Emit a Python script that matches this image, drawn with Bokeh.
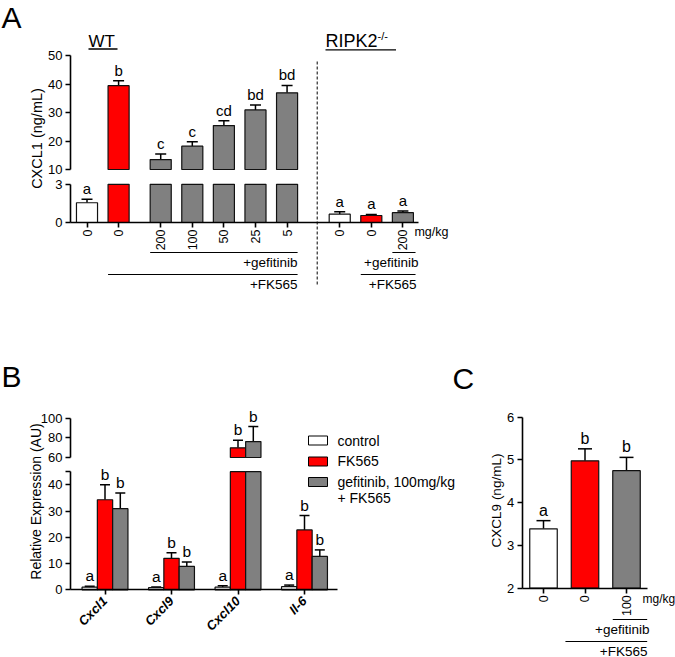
import math
from bokeh.plotting import figure
from bokeh.models import Range1d, LinearAxis, FixedTicker, Whisker, TeeHead, ColumnDataSource
from bokeh.core.properties import value
from bokeh.embed import file_html
from bokeh.resources import INLINE

FONT = "Liberation Sans"

# ---------------- data ----------------
# Panel A: CXCL1 (ng/mL)
a_doses = ["0", "0", "200", "100", "50", "25", "5", "0", "0", "200"]
a_treat = ["control", "FK565", "gefitinib", "gefitinib", "gefitinib", "gefitinib",
           "gefitinib", "control", "FK565", "gefitinib"]
a_mean = [1.55, 39.4, 13.5, 18.2, 25.4, 30.9, 36.9, 0.65, 0.55, 0.77]
a_err = [0.27, 1.7, 1.9, 1.5, 1.7, 1.7, 2.6, 0.2, 0.08, 0.13]
a_letters = ["a", "b", "c", "c", "cd", "bd", "bd", "a", "a", "a"]
a_upper_ticks = [10, 20, 30, 40, 50]
a_lower_ticks = [0, 3]

# Panel B: Relative Expression (AU)
b_genes = ["Cxcl1", "Cxcl9", "Cxcl10", "Il-6"]
b_series = ["control", "FK565", "gefitinib"]
b_series_labels = ["control", "FK565", "gefitinib, 100mg/kg", "+ FK565"]
b_control = [1.0, 0.8, 1.0, 1.2]
b_control_err = [0.4, 0.3, 0.5, 0.6]
b_fk565 = [34.3, 12.0, 69.8, 22.8]
b_fk565_err = [5.7, 2.1, 7.8, 5.5]
b_gef = [30.9, 8.9, 76.2, 12.7]
b_gef_err = [6.0, 1.7, 15.3, 2.5]
b_letters = ["a", "b", "b"]
b_upper_ticks = [60, 80, 100]
b_lower_ticks = [0, 10, 20, 30, 40, 45]

# Panel C: CXCL9 (ng/mL)
c_doses = ["0", "0", "100"]
c_treat = ["control", "FK565", "gefitinib"]
c_mean = [3.39, 4.98, 4.75]
c_err = [0.19, 0.28, 0.31]
c_letters = ["a", "b", "b"]
c_ticks = [2, 3, 4, 5, 6]

COLORS = {"control": "#ffffff", "FK565": "#ff0000", "gefitinib": "#808080"}

# ---------------- layout ----------------
W, H = 675, 657
X0, X1, Y0, Y1 = 0.0, float(W), 0.0, float(H)   # frame in page pixels


def rng(v1, p1, v2, p2, vertical):
    k = (v2 - v1) / (p2 - p1)
    a, b = (Y1, Y0) if vertical else (X0, X1)
    return Range1d(start=v1 + (a - p1) * k, end=v1 + (b - p1) * k)


p = figure(width=W, height=H, x_range=Range1d(X0, X1), y_range=Range1d(Y1, Y0),
           output_backend="svg", toolbar_location=None, min_border=0,
           x_axis_location=None, y_axis_location=None)
p.outline_line_color = None
p.background_fill_color = "white"
p.border_fill_color = "white"
p.xgrid.visible = False
p.ygrid.visible = False

# panel A geometry
A_PX0, A_UNIT = 86.5, 10.53
a_pos = [0, 3, 7, 10, 13, 16, 19, 24, 27, 30]
A_W = 2.0
def ax_(px): return (px - A_PX0) / A_UNIT
# panel B geometry
B_PX0, B_UNIT = 104.5, 66.5
B_W = 15.3 / B_UNIT
def bx_(px): return (px - B_PX0) / B_UNIT
# panel C geometry
C_PX0, C_UNIT = 543.0, 41.5
C_W = 27.5 / C_UNIT
def cx_(px): return (px - C_PX0) / C_UNIT

p.extra_x_ranges = {
    "ax": rng(0, A_PX0, 1, A_PX0 + A_UNIT, False),
    "bx": rng(0, B_PX0, 1, B_PX0 + B_UNIT, False),
    "cx": rng(0, C_PX0, 1, C_PX0 + C_UNIT, False),
}
p.extra_y_ranges = {
    "au": rng(10, 169.0, 50, 55.0, True),
    "al": rng(0, 222.0, 3, 183.8, True),
    "bu": rng(60, 457.0, 100, 417.7, True),
    "bl": rng(0, 589.3, 40, 484.3, True),
    "cy": rng(2, 587.7, 6, 416.7, True),
}


def add_axis(side, xr, yr, loc, bounds, ticks, overrides=None, orient="horizontal",
             size="13px", style="normal", standoff=3):
    ax = LinearAxis(x_range_name=xr, y_range_name=yr, fixed_location=loc, bounds=bounds,
                    ticker=FixedTicker(ticks=ticks, minor_ticks=[]),
                    axis_line_width=1.6, axis_line_color="black",
                    major_tick_line_width=1.6, major_tick_line_color="black",
                    major_tick_in=0, major_tick_out=5, minor_tick_line_color=None,
                    major_label_text_font=FONT, major_label_text_font_size=size,
                    major_label_text_font_style=style, major_label_text_color="black",
                    major_label_standoff=standoff, major_label_orientation=orient)
    if overrides:
        ax.major_label_overrides = overrides
    p.add_layout(ax, side)


def txt(x, y, s, size, xr="default", yr="default", align="center", baseline="middle",
        angle=0.0, style="normal", xo=0, yo=0):
    p.text(x=[x], y=[y], text=[s], x_range_name=xr, y_range_name=yr,
           text_font=value(FONT), text_font_size=value(size), text_align=align,
           text_baseline=baseline, angle=angle, text_font_style=style,
           text_color="black", x_offset=xo, y_offset=yo)


def draw_bars(xr, xs, width, vals, errs, letters, colors, lo, lo_max, bottom=0,
              up=None, up_min=None, cap=10, letter_size="14px"):
    lo_top = [min(v, lo_max) for v in vals]
    p.vbar(x=xs, width=width, bottom=bottom, top=lo_top, fill_color=colors,
           line_color="#111111", line_width=1.2, x_range_name=xr, y_range_name=lo)
    groups = {lo: [i for i, v in enumerate(vals) if up is None or v <= up_min]}
    if up is not None:
        ui = [i for i, v in enumerate(vals) if v > up_min]
        if ui:
            p.vbar(x=[xs[i] for i in ui], width=width, bottom=up_min,
                   top=[vals[i] for i in ui], fill_color=[colors[i] for i in ui],
                   line_color="#111111", line_width=1.2, x_range_name=xr, y_range_name=up)
            groups[up] = ui
    for rname, idx in groups.items():
        if not idx:
            continue
        base = [xs[i] for i in idx]
        top = [vals[i] + errs[i] for i in idx]
        src = ColumnDataSource(dict(base=base, lower=[vals[i] for i in idx], upper=top))
        p.add_layout(Whisker(source=src, base="base", lower="lower", upper="upper",
                             dimension="height", line_width=1.5, line_color="black",
                             upper_head=TeeHead(size=cap, line_width=1.5, line_color="black"),
                             lower_head=None, x_range_name=xr, y_range_name=rname))
        p.text(x=base, y=top, text=[letters[i] for i in idx], x_range_name=xr,
               y_range_name=rname, text_font=value(FONT), text_font_size=value(letter_size),
               text_align="center", text_baseline="bottom", y_offset=-2, text_color="black")


# ================= Panel A =================
a_colors = [COLORS[t] for t in a_treat]
draw_bars("ax", a_pos, A_W, a_mean, a_err, a_letters, a_colors, "al", 3, up="au", up_min=10,
          cap=11, letter_size="15px")
add_axis("left", "ax", "au", ax_(70), (10, 50), a_upper_ticks)
add_axis("left", "ax", "al", ax_(70), (0, 3), a_lower_ticks)
add_axis("below", "ax", "al", 0, (ax_(70), ax_(418)), a_pos,
         overrides={pp: d for pp, d in zip(a_pos, a_doses)}, orient=math.pi / 2,
         size="12.5px", standoff=2)

# brackets
half = A_W / 2
p.segment(x0=[a_pos[2] - half, a_pos[1] - half, a_pos[9] - half, a_pos[8] - half],
          x1=[a_pos[6] + half, a_pos[6] + half, a_pos[9] + half + 0.2, a_pos[9] + half + 0.2],
          y0=[252, 274, 252, 274], y1=[252, 274, 252, 274],
          x_range_name="ax", line_color="black", line_width=1)
txt(a_pos[6] + half, 262, "+gefitinib", "13.5px", xr="ax", align="right")
txt(a_pos[6] + half, 284, "+FK565", "13.5px", xr="ax", align="right")
txt(a_pos[9] + half, 262, "+gefitinib", "13.5px", xr="ax", align="right", xo=5)
txt(a_pos[9] + half, 284, "+FK565", "13.5px", xr="ax", align="right", xo=3)
txt(a_pos[9] + half, 231, "mg/kg", "12.5px", xr="ax", align="left", xo=1)

# separator
p.segment(x0=[316.7], x1=[316.7], y0=[61], y1=[285], line_color="black",
          line_width=1, line_dash="3 2")

# titles
txt(1, 17, "A", "30px", align="left")
txt(88, 41, "WT", "17px", align="left")
p.segment(x0=[88], x1=[117], y0=[48.5], y1=[48.5], line_color="black", line_width=1.3)
txt(325, 40.5, "RIPK2", "18px", align="left")
txt(377, 35, "-/-", "11px", align="left")
p.segment(x0=[325], x1=[395.5], y0=[49.3], y1=[49.3], line_color="black", line_width=1.3)
txt(36, 138, "CXCL1 (ng/mL)", "14.5px", angle=math.pi / 2)

# ================= Panel B =================
b_vals = [b_control, b_fk565, b_gef]
b_errs = [b_control_err, b_fk565_err, b_gef_err]
for s, (name, vals, errs) in enumerate(zip(b_series, b_vals, b_errs)):
    xs = [g + (s - 1) * B_W for g in range(len(b_genes))]
    draw_bars("bx", xs, B_W, vals, errs, [b_letters[s]] * len(vals),
              [COLORS[name]] * len(vals), "bl", 45, up="bu", up_min=60, cap=10,
              letter_size="15.5px")
add_axis("left", "bx", "bu", bx_(70), (60, 100), b_upper_ticks)
add_axis("left", "bx", "bl", bx_(70), (0, 45), b_lower_ticks, overrides={45: ""})
add_axis("below", "bx", "bl", 0, (bx_(70), bx_(337.3)), list(range(len(b_genes))),
         overrides={i: g for i, g in enumerate(b_genes)}, orient=math.pi / 4,
         size="13px", style="bold italic", standoff=4)

txt(1, 376, "B", "30px", align="left")
txt(35, 501, "Relative Expression (AU)", "14px", angle=math.pi / 2)

# legend
leg_y = [440, 461, 481.5]
for yy, name in zip(leg_y, b_series):
    p.rect(x=[317.5], y=[yy], width=19, height=9, fill_color=COLORS[name],
           line_color="black", line_width=1)
for yy, lab in zip([440, 460.5, 481.5, 497], b_series_labels):
    txt(337, yy, lab, "14px", align="left")

# ================= Panel C =================
c_pos = [0, 1, 2]
draw_bars("cx", c_pos, C_W, c_mean, c_err, c_letters, [COLORS[t] for t in c_treat],
          "cy", 10, bottom=2, cap=14, letter_size="16px")
add_axis("left", "cx", "cy", cx_(521.7), (2, 6), c_ticks)
add_axis("below", "cx", "cy", 2, (cx_(521.7), cx_(646.7)), c_pos,
         overrides={pp: d for pp, d in zip(c_pos, c_doses)}, orient=math.pi / 2,
         size="12.5px", standoff=2)
ch = C_W / 2
p.segment(x0=[c_pos[2] - ch, c_pos[1] - ch - 0.14], x1=[cx_(646.7), cx_(646.7)],
          y0=[619, 641], y1=[619, 641], x_range_name="cx", line_color="black", line_width=1)
txt(cx_(649), 629, "+gefitinib", "13.5px", xr="cx", align="right")
txt(cx_(647), 650.5, "+FK565", "13.5px", xr="cx", align="right")
txt(cx_(642), 598, "mg/kg", "12px", xr="cx", align="left")

txt(452, 378, "C", "30px", align="left")
txt(496, 500, "CXCL9 (ng/mL)", "13.5px", angle=math.pi / 2)

open("out.html", "w").write(file_html(p, INLINE))
